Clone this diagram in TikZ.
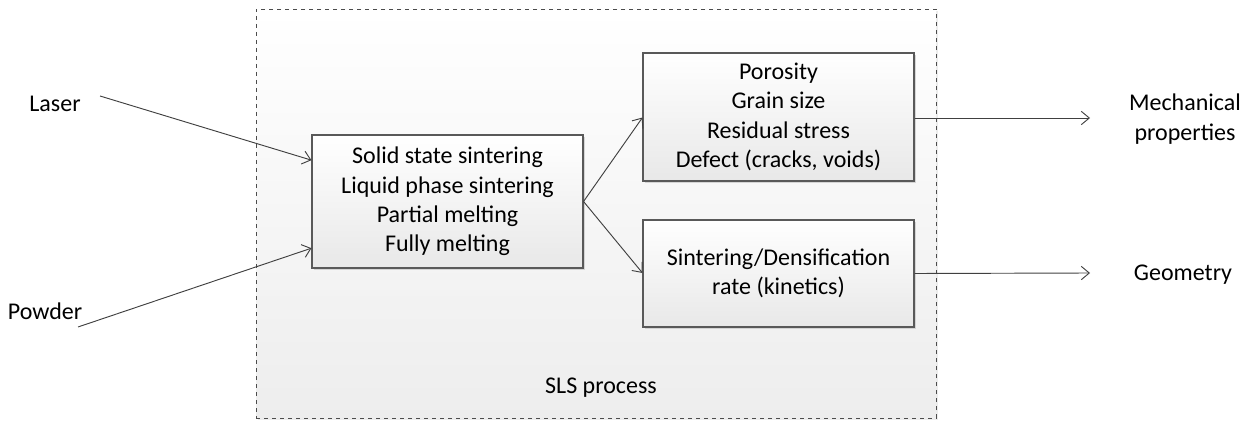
\documentclass[tikz,border=0pt]{standalone}
\usepackage{fontspec}
\setmainfont{Carlito}
\usetikzlibrary{arrows.meta,shadows}

\tikzset{
  stage/.style={rectangle,draw=black!65,line width=0.8pt,align=center,
    top color=white,bottom color=black!9,
    drop shadow={shadow xshift=1.6pt,shadow yshift=-1.6pt,fill=black!25,opacity=0.6},
    inner sep=0pt},
  flow/.style={draw=black!75,line width=0.7pt,-{Straight Barb[length=6pt,width=10pt]}},
  txt/.style={align=center,inner sep=0pt}
}

\begin{document}
\begin{tikzpicture}[x=0.75pt,y=-0.75pt,font=\fontsize{18}{22}\selectfont]
  \useasboundingbox (0,0) rectangle (1249,424);

  % SLS process frame
  \node[rectangle,draw=black!70,dashed,line width=0.7pt,
        top color=white,bottom color=black!7,
        drop shadow={shadow xshift=1.2pt,shadow yshift=-1.2pt,fill=black!15},
        minimum width=510pt,minimum height=306.75pt] (sls) at (596,213.5) {};
  \node[txt] (slslabel) at (601,388) {SLS process};

  % stages
  \node[stage,minimum width=203.25pt,minimum height=99.75pt] (proc) at (447.5,201.5)
    {Solid state sintering\\Liquid phase sintering\\Partial melting\\Fully melting};
  \node[stage,minimum width=203.25pt,minimum height=96pt] (micro) at (778.5,117)
    {Porosity\\Grain size\\Residual stress\\Defect (cracks, voids)};
  \node[stage,minimum width=203.25pt,minimum height=80.25pt] (rate) at (778.5,273.5)
    {Sintering/Densification\\rate (kinetics)};

  % inputs
  \node[txt] (laser) at (55,104) {Laser};
  \node[txt] (powder) at (45,311) {Powder};
  \coordinate (laserin) at (100,96);
  \coordinate (powderin) at (78,327);

  % outputs
  \coordinate (mechout) at (1090,118);
  \coordinate (geomout) at (1090,273);
  \node[txt] (mech) at (1185,119) {Mechanical\\properties};
  \node[txt] (geom) at (1183,275) {Geometry};

  \draw[flow] (laserin) -- ([yshift=31pt]proc.west);
  \draw[flow] (powderin) -- ([yshift=-35pt]proc.west);
  \draw[flow] (proc.east) -- ([yshift=-0.4pt]micro.west);
  \draw[flow] (proc.east) -- ([yshift=0.4pt]rate.west);
  \draw[flow] ([yshift=-0.75pt]micro.east) -- (mechout);
  \draw[flow] (rate.east) -- (geomout);
\end{tikzpicture}
\end{document}
